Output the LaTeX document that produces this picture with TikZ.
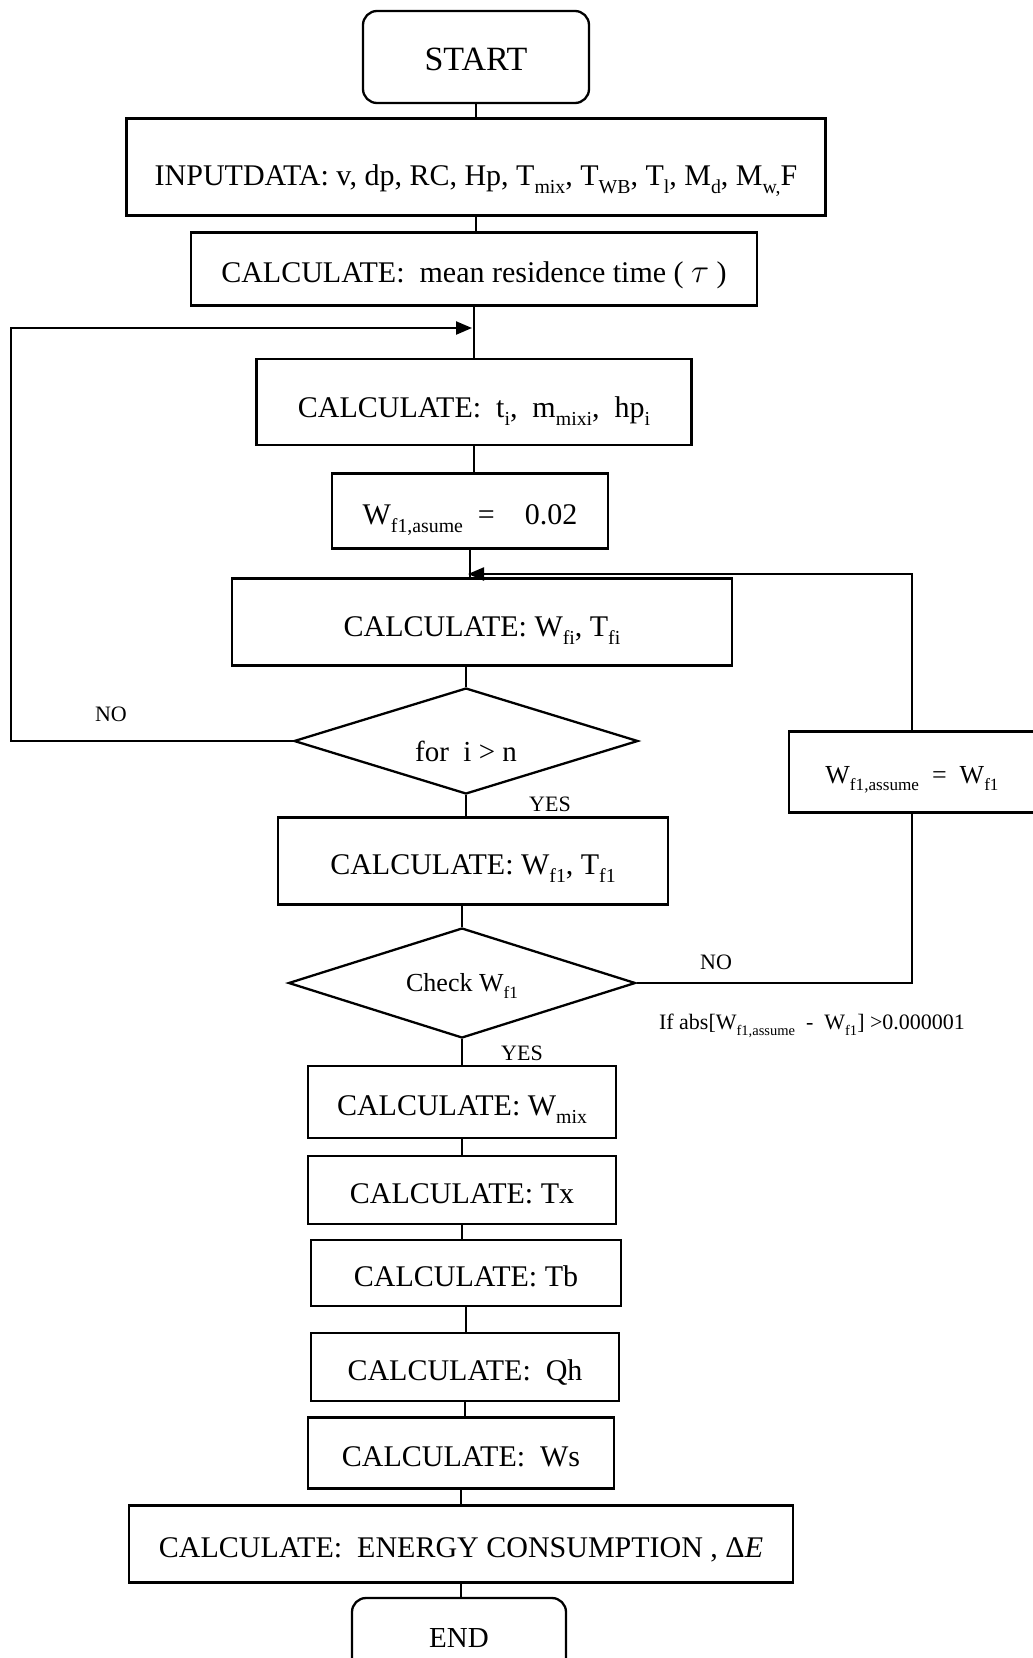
\documentclass[tikz,border=0pt]{standalone}
\usepackage{fontspec}
\setmainfont{Liberation Serif}
\usetikzlibrary{shapes.geometric,arrows.meta}
\newcommand{\dn}[1]{\raisebox{-0.6ex}{\scalebox{0.66}{#1}}}
\tikzset{
  proc/.style={draw, line width=2.3pt, inner sep=0pt, text height=27pt, text depth=0pt, font=\fontsize{30}{35}\selectfont},
  term/.style={proc, rounded corners=14pt},
  dec/.style={draw, diamond, line width=2.3pt, inner sep=0pt},
  dectext/.style={inner sep=0pt, font=\fontsize{28}{33}\selectfont},
  lbl/.style={font=\fontsize{22}{26}\selectfont},
  conn/.style={line width=2.3pt},
  arr/.style={conn, -{Triangle[length=16pt,width=13pt]}},
}
\begin{document}
\begin{tikzpicture}[x=1pt,y=-1pt]
\clip (0,0) rectangle (1033,1658);
\fill[white] (0,0) rectangle (1033,1658);

\node[term, minimum width=226, minimum height=92, font=\fontsize{34}{40}\selectfont] (start) at (476,57) {START};
\node[proc, minimum width=699, minimum height=97, text height=36pt] (input) at (476,167) {INPUTDATA: v, dp, RC, Hp, T\dn{mix}, T\dn{WB}, T\dn{l}, M\dn{d}, M\dn{w,}F};
\node[proc, minimum width=566, minimum height=73] (tau) at (474,269) {CALCULATE:\ \ mean residence time ( \scalebox{1.35}{$\tau$} )};
\node[proc, minimum width=435, minimum height=86, text height=30pt] (ti) at (474,402) {CALCULATE:\ \ t\dn{i},\ \ m\dn{mixi},\ \ hp\dn{i}};
\node[proc, minimum width=276, minimum height=75] (w002) at (470,511) {W\dn{f1,asume}\ \ =\ \ \ \ 0.02};
\node[proc, minimum width=500, minimum height=87, text height=28pt] (wfi) at (482,622) {CALCULATE: W\dn{fi}, T\dn{fi}};
\node[dec, minimum width=344, minimum height=106, label={[dectext, font=\fontsize{29}{34}\selectfont, yshift=-10pt]center:for\ \ i > n}] (d1) at (466,741) {};
\node[proc, minimum width=246, minimum height=81, font=\fontsize{26}{31}\selectfont, text height=22pt] (wass) at (912,772) {W\dn{f1,assume}\ \ =\ \ W\dn{f1}};
\node[proc, minimum width=390, minimum height=87] (wf1) at (473,861) {CALCULATE: W\dn{f1}, T\dn{f1}};
\node[dec, minimum width=347, minimum height=110, label={[dectext, font=\fontsize{26}{31}\selectfont, yshift=-3pt]center:Check W\dn{f1}}] (d2) at (462,983) {};
\node[proc, minimum width=308, minimum height=72] (wmix) at (462,1102) {CALCULATE: W\dn{mix}};
\node[proc, minimum width=308, minimum height=68] (tx) at (462,1190) {CALCULATE: Tx};
\node[proc, minimum width=310, minimum height=66] (tb) at (466,1273) {CALCULATE: Tb};
\node[proc, minimum width=308, minimum height=68] (qh) at (465,1367) {CALCULATE:\ \ Qh};
\node[proc, minimum width=306, minimum height=71] (ws) at (461,1453) {CALCULATE:\ \ Ws};
\node[proc, minimum width=664, minimum height=77] (energy) at (461,1544) {CALCULATE:\ \ ENERGY CONSUMPTION , Δ\textit{E}};
\node[term, minimum width=214, minimum height=76, font=\fontsize{29}{34}\selectfont, text height=22pt] (end) at (459,1636) {END};

\node[lbl] (no1) at (111,714) {NO};
\node[lbl] (yes1) at (550,804) {YES};
\node[lbl] (no2) at (716,962) {NO};
\node[lbl, font=\fontsize{22}{26}\selectfont] (cond) at (812,1026) {If abs[W\dn{f1,assume}\ \ -\ \ W\dn{f1}] >0.000001};
\node[lbl] (yes2) at (522,1053) {YES};

\coordinate (j1) at (472,328);
\coordinate (lc) at (11,328);
\coordinate (j2) at (468,574);
\coordinate (rc) at (913,574);

\draw[conn] (start.south) -- (start.south |- input.north);
\draw[conn] (input.south) -- (input.south |- tau.north);
\draw[conn] (tau.south) -- (tau.south |- ti.north);
\draw[conn] (ti.south) -- (ti.south |- w002.north);
\draw[conn] (w002.south) -- (w002.south |- wfi.north);
\draw[conn] (d1.north |- wfi.south) -- (d1.north);
\draw[conn] (d1.south) -- (d1.south |- wf1.north);
\draw[conn] (d2.north |- wf1.south) -- (d2.north);
\draw[conn] (d2.south) -- (d2.south |- wmix.north);
\draw[conn] (wmix.south) -- (wmix.south |- tx.north);
\draw[conn] (tx.south) -- (tx.south |- tb.north);
\draw[conn] (tb.south) -- (tb.south |- qh.north);
\draw[conn] (qh.south) -- (qh.south |- ws.north);
\draw[conn] (ws.south) -- (ws.south |- energy.north);
\draw[conn] (energy.south) -- (energy.south |- end.north);

\draw[arr] (d1.west) -- (d1.west -| lc) -- (lc) -- (j1);
\draw[conn] (d2.east) -- (d2.east -| wass) -- (wass.south);
\draw[arr] (wass.north) -- (wass.north |- rc) -- (j2);
\end{tikzpicture}
\end{document}
